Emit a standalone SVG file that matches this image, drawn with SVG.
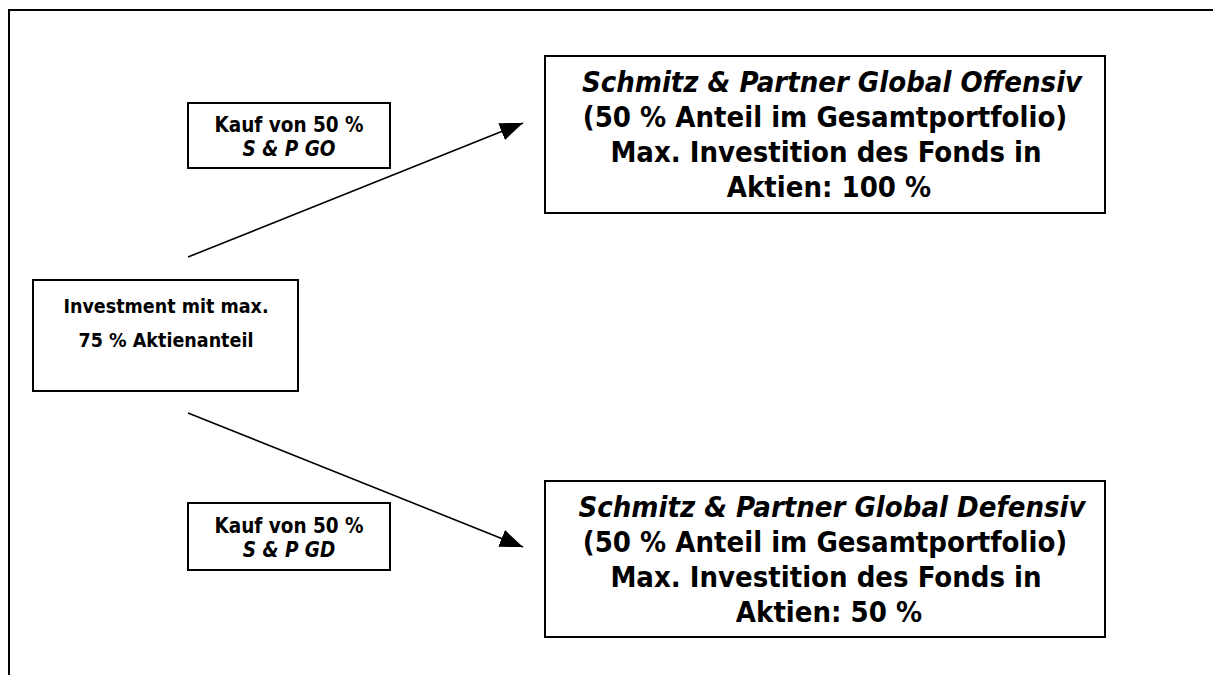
<svg xmlns="http://www.w3.org/2000/svg" width="1213" height="675" viewBox="0 0 1213 675">
  <style>
    .box { fill: #ffffff; stroke: #000000; stroke-width: 2; }
    .frame { fill: none; stroke: #000000; stroke-width: 2; }
    .txt { font-family: "DejaVu Sans Condensed", "DejaVu Sans", sans-serif; font-weight: bold; fill: #000000; text-anchor: middle; }
    .big { font-size: 29px; }
    .mid { font-size: 19.5px; }
    .small { font-size: 20.5px; }
    .it { font-style: italic; }
    .conn { stroke: #000000; stroke-width: 1.6; fill: none; }
  </style>
  <defs>
    <marker id="arrowhead" markerWidth="26" markerHeight="18" refX="23" refY="9" orient="auto" markerUnits="userSpaceOnUse">
      <path d="M0,0 L23,9 L0,18 Z" fill="#000000"/>
    </marker>
  </defs>

  <rect width="1213" height="675" fill="#ffffff"/>
  <!-- page frame -->
  <path class="frame" d="M9,675 V10 H1213"/>

  <!-- connectors -->
  <g id="connectors">
    <line class="conn" x1="188" y1="257" x2="523" y2="123" marker-end="url(#arrowhead)"/>
    <line class="conn" x1="188" y1="413" x2="523" y2="547" marker-end="url(#arrowhead)"/>
  </g>

  <!-- source portfolio -->
  <g id="investment">
    <rect class="box" x="33" y="280" width="265" height="111"/>
    <text class="txt mid" x="166" y="313">Investment mit max.</text>
    <text class="txt mid" x="166" y="347">75 % Aktienanteil</text>
  </g>

  <!-- purchase labels -->
  <g id="label-go">
    <rect class="box" x="188" y="103" width="202" height="65"/>
    <text class="txt small" x="289" y="132">Kauf von 50 %</text>
    <text class="txt small it" x="289" y="156">S &amp; P GO</text>
  </g>
  <g id="label-gd">
    <rect class="box" x="188" y="503" width="202" height="67"/>
    <text class="txt small" x="289" y="533">Kauf von 50 %</text>
    <text class="txt small it" x="289" y="557">S &amp; P GD</text>
  </g>

  <!-- target funds -->
  <g id="fund-offensiv">
    <rect class="box" x="545" y="56" width="560" height="157"/>
    <text class="txt big it" x="832" y="92">Schmitz &amp; Partner Global Offensiv</text>
    <text class="txt big" x="825" y="127">(50 % Anteil im Gesamtportfolio)</text>
    <text class="txt big" x="826" y="162">Max. Investition des Fonds in</text>
    <text class="txt big" x="829" y="197">Aktien: 100 %</text>
  </g>
  <g id="fund-defensiv">
    <rect class="box" x="545" y="481" width="560" height="156"/>
    <text class="txt big it" x="832" y="517">Schmitz &amp; Partner Global Defensiv</text>
    <text class="txt big" x="825" y="552">(50 % Anteil im Gesamtportfolio)</text>
    <text class="txt big" x="826" y="587">Max. Investition des Fonds in</text>
    <text class="txt big" x="829" y="622">Aktien: 50 %</text>
  </g>
</svg>
